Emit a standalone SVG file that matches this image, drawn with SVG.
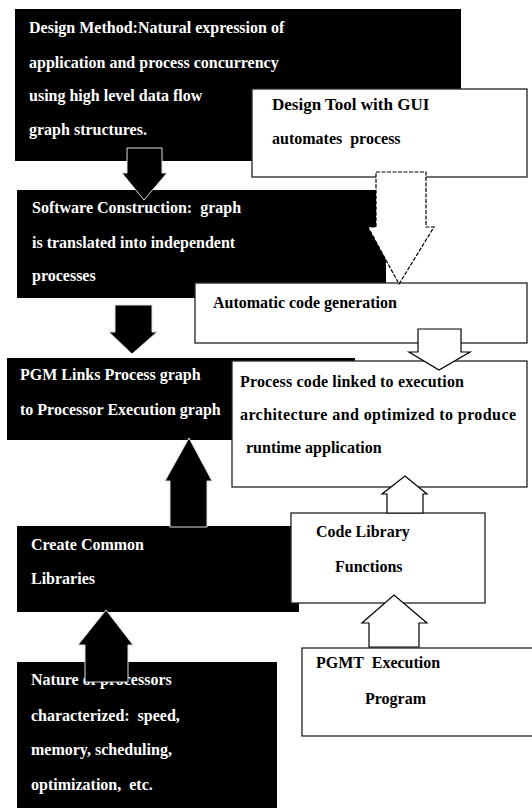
<svg xmlns="http://www.w3.org/2000/svg" width="532" height="809" viewBox="0 0 532 809">
<defs>
<style>
.blk{fill:#000;}
.wht{fill:#fff;stroke:#222;stroke-width:1.3;}
text{font-family:"Liberation Serif","Times New Roman",serif;font-weight:bold;font-size:16px;white-space:pre;}
.tw{fill:#fff;}
.tb{fill:#000;}
.barrow{fill:#000;stroke:#ddd;stroke-width:1;}
.oarrow{fill:#fff;stroke:#000;stroke-width:1.2;}
.darrow{fill:#fff;stroke:#000;stroke-width:1.2;stroke-dasharray:4 1.5;}
</style>
</defs>
<rect width="532" height="809" fill="#fff"/>
<g id="design-method">
<rect class="blk" x="15" y="9" width="446" height="152"/>
<text class="tw" x="29" y="33">Design Method:Natural expression of</text>
<text class="tw" x="29" y="68">application and process concurrency</text>
<text class="tw" x="29" y="101">using high level data flow</text>
<text class="tw" x="29" y="135">graph structures.</text>
</g>
<g id="design-tool">
<rect class="wht" x="252" y="89" width="275" height="88"/>
<text class="tb" x="272" y="110" style="font-size:17px">Design Tool with GUI</text>
<text class="tb" x="272" y="144">automates  process</text>
</g>
<g id="software-construction">
<rect class="blk" x="17" y="190" width="369" height="108"/>
<text class="tw" x="32" y="213">Software Construction:  graph</text>
<text class="tw" x="32" y="248">is translated into independent</text>
<text class="tw" x="32" y="281">processes</text>
</g>
<g id="auto-code">
<rect class="wht" x="195" y="283" width="332" height="60"/>
<text class="tb" x="213" y="308">Automatic code generation</text>
</g>
<g id="pgm-links">
<rect class="blk" x="7" y="358" width="348" height="82"/>
<text class="tw" x="20" y="380">PGM Links Process graph</text>
<text class="tw" x="20" y="415">to Processor Execution graph</text>
</g>
<g id="process-code">
<rect class="wht" x="232" y="361" width="295" height="126"/>
<text class="tb" x="240" y="387" textLength="224" lengthAdjust="spacing">Process code linked to execution</text>
<text class="tb" x="240" y="420" textLength="276" lengthAdjust="spacing">architecture and optimized to produce</text>
<text class="tb" x="246" y="453">runtime application</text>
</g>
<g id="create-common">
<rect class="blk" x="17" y="526" width="282" height="86"/>
<text class="tw" x="31" y="550">Create Common</text>
<text class="tw" x="31" y="584">Libraries</text>
</g>
<g id="code-library">
<rect class="wht" x="291" y="513" width="194" height="90"/>
<text class="tb" x="316" y="537">Code Library</text>
<text class="tb" x="335" y="572">Functions</text>
</g>
<g id="nature">
<rect class="blk" x="17" y="662" width="260" height="146"/>
<text class="tw" x="31" y="685">Nature of processors</text>
<text class="tw" x="31" y="721">characterized:  speed,</text>
<text class="tw" x="31" y="755">memory, scheduling,</text>
<text class="tw" x="31" y="790">optimization,  etc.</text>
</g>
<g id="pgmt">
<rect class="wht" x="302" y="648" width="240" height="88"/>
<text class="tb" x="316" y="668">PGMT  Execution</text>
<text class="tb" x="365" y="704">Program</text>
</g>
<g id="connectors">
<polygon class="barrow" points="127,148 162,148 162,173 167,173 144,200 122,173 127,173"/>
<polygon class="darrow" points="376,172 426,172 426,227 434,227 399,284 368,227 376,227"/>
<polygon class="barrow" points="115,305 152,305 152,332 157,332 132,354 109,332 115,332"/>
<polygon class="oarrow" points="418,329 461,329 461,352 470,352 439,370 409,352 418,352"/>
<polygon class="barrow" points="170,527 207,527 207,481 212,481 189,438 165,481 170,481"/>
<polygon class="oarrow" points="387,513 423,513 423,494 427,494 405,476 382,494 387,494"/>
<polygon class="oarrow" points="369,647 419,647 419,623 427,623 394,595 362,623 369,623"/>
<polygon class="barrow" points="85,682 128,682 128,645 133,645 106,610 78,645 85,645"/>
</g>
</svg>
